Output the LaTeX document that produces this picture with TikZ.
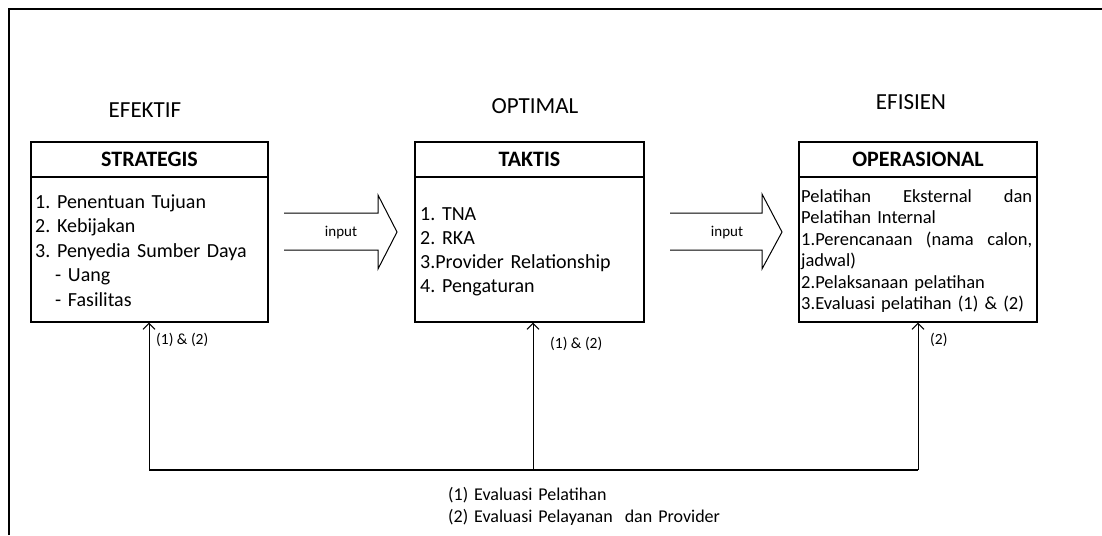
\documentclass[tikz,border=0pt]{standalone}
\usepackage{fontspec}
\setmainfont{Carlito}
\usetikzlibrary{arrows.meta}
\frenchspacing
\begin{document}
\begin{tikzpicture}[x=1pt,y=-1pt,
  box/.style={draw,line width=1.2pt,inner sep=0pt},
  headbox/.style={box,minimum height=35pt,font=\fontsize{22}{26}\selectfont\bfseries},
  bodybox/.style={box,minimum height=145pt},
  bodytext/.style={anchor=north west,inner sep=0pt,align=left},
  toplabel/.style={inner sep=0pt,font=\fontsize{23}{28}\selectfont},
  small/.style={inner sep=0pt,font=\fontsize{15.5}{19}\selectfont},
  blockarrow/.style={line width=1pt,line join=miter},
  fb/.style={line width=1pt,-{Straight Barb[length=6pt,width=12pt,line width=1pt]}},
  frame/.style={line width=1.2pt}]
\useasboundingbox (0,0) rectangle (1102,535);
% outer frame (top and left edges)
\draw[frame] (9,535) -- (9,9) -- (1102,9);

% top labels
\node[toplabel] (efektif) at (145,110) {EFEKTIF};
\node[toplabel] (optimal) at (535,106) {OPTIMAL};
\node[toplabel] (efisien) at (911,102) {EFISIEN};

% STRATEGIS
\node[headbox,minimum width=237pt] (sh) at (149.5,159.5) {STRATEGIS};
\node[bodybox,minimum width=237pt] (sb) at (149.5,249.5) {};
\node[bodytext,text width=230pt,font=\fontsize{20}{24.5}\selectfont\frenchspacing] (st) at (35,190.85)
  {\strut 1. Penentuan Tujuan\\2. Kebijakan\\3. Penyedia Sumber Daya\\\hspace*{20pt}- Uang\\\hspace*{20pt}- Fasilitas};

% TAKTIS
\node[headbox,minimum width=229pt] (th) at (529.5,159.5) {TAKTIS};
\node[bodybox,minimum width=229pt] (tb) at (529.5,249.5) {};
\node[bodytext,text width=220pt,font=\fontsize{20}{24.2}\selectfont\frenchspacing] (tt) at (420,203.06)
  {\strut 1. TNA\\2. RKA\\3.Provider Relationship\\4. Pengaturan};

% OPERASIONAL
\node[headbox,minimum width=238pt] (oh) at (918,159.5) {OPERASIONAL};
\node[bodybox,minimum width=238pt] (ob) at (918,249.5) {};
\node[bodytext,text width=231pt,font=\fontsize{18.5}{21.5}\selectfont\frenchspacing] (ot) at (801,186.95)
  {\strut\makebox[\linewidth][s]{Pelatihan\hfill Eksternal\hfill dan}\\Pelatihan Internal\\\makebox[\linewidth][s]{1.Perencanaan\hfill (nama\hfill calon,}\\jadwal)\\2.Pelaksanaan pelatihan\\3.Evaluasi pelatihan (1) \& (2)};

% block arrows
\draw[blockarrow] (284,213) -- (378,213) -- (378,195) -- (397,232) -- (378,269) -- (378,250) -- (284,250);
\node[small,font=\fontsize{15}{18}\selectfont] (in1) at (341,233) {input};
\draw[blockarrow] (670,213) -- (762,213) -- (762,194) -- (782,232) -- (762,269) -- (762,250) -- (670,250);
\node[small,font=\fontsize{15}{18}\selectfont] (in2) at (727,233) {input};

% feedback lines
\coordinate (j1) at (149,470);
\coordinate (j2) at (533,470);
\coordinate (j3) at (918,470);
\draw[line width=1.2pt] (j1) -- (j3);
\draw[fb] (j1) -- (j1 |- sb.south);
\draw[fb] (j2) -- (j2 |- tb.south);
\draw[fb] (j3) -- (j3 |- ob.south);
\node[small,anchor=west] (l1) at (156,340) {(1) \& (2)};
\node[small,anchor=west] (l2) at (550,344) {(1) \& (2)};
\node[small,anchor=west] (l3) at (930,340) {(2)};

% legend
\node[bodytext,text width=320pt,font=\fontsize{18}{22}\selectfont\frenchspacing] (legend) at (448,484.6)
  {\strut(1) Evaluasi Pelatihan\\(2) Evaluasi Pelayanan\ \ dan Provider};
\end{tikzpicture}
\end{document}
